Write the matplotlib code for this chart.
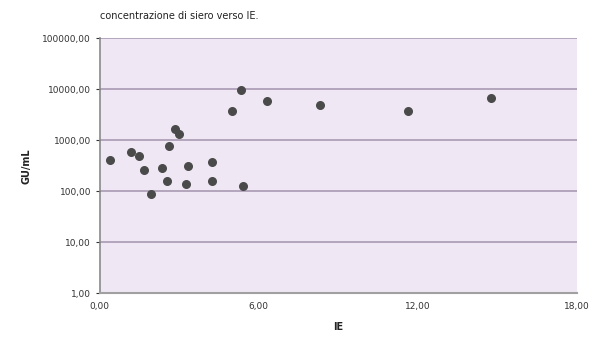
import numpy as np
import matplotlib
matplotlib.use("Agg")
import matplotlib.pyplot as plt
from matplotlib.ticker import FixedLocator, FuncFormatter, NullLocator

# data
ie_values = [0.38, 1.20, 1.49, 1.68, 1.95, 2.34, 2.54, 2.61, 2.86, 3.01, 3.26,
             3.34, 4.23, 4.24, 4.98, 5.34, 5.42, 6.30, 8.30, 11.62, 14.75]
gu_values = [417, 582, 499, 262, 88.5, 290, 159, 773, 1643, 1312, 139,
             313, 380, 157, 3705, 9690, 127, 5975, 4920, 3705, 6750]
x_ticks = [0, 6, 12, 18]
y_ticks = [1, 10, 100, 1000, 10000, 100000]


def comma_fmt(v, pos):
    return f"{v:.2f}".replace(".", ",")


fig = plt.figure(figsize=(5.96, 3.45), dpi=100)
ax = fig.add_axes([0.167, 0.150, 0.801, 0.739])
ax.set_facecolor("#efe7f4")

ax.scatter(ie_values, gu_values, s=30, color="#4a4a4a", zorder=3)

ax.set_yscale("log")
ax.set_xlim(0, 18)
ax.set_ylim(1, 100000)
ax.xaxis.set_major_locator(FixedLocator(x_ticks))
ax.yaxis.set_major_locator(FixedLocator(y_ticks))
ax.yaxis.set_minor_locator(NullLocator())
ax.xaxis.set_major_formatter(FuncFormatter(comma_fmt))
ax.yaxis.set_major_formatter(FuncFormatter(comma_fmt))

# horizontal grid only
ax.grid(axis="y", color="#a393ab", linewidth=1.1, zorder=1)
ax.set_axisbelow(True)

for side in ["top", "right"]:
    ax.spines[side].set_visible(False)
ax.spines["left"].set_color("#8a8a8a")
ax.spines["bottom"].set_color("#a0a0a0")
ax.spines["left"].set_linewidth(1.2)
ax.spines["bottom"].set_linewidth(1.5)

ax.tick_params(axis="both", labelsize=6.5, colors="#333333", length=3,
               width=0.8, pad=3)
ax.tick_params(axis="x", length=0, pad=6)

ax.set_xlabel("IE", fontsize=7, fontweight="bold", color="#222222", labelpad=8)
ax.set_ylabel("GU/mL", fontsize=7, fontweight="bold", color="#222222",
              labelpad=8)
fig.text(0.168, 0.955, "concentrazione di siero verso IE.", fontsize=7,
         color="#222222", ha="left", va="center")

fig.savefig("out.png", dpi=100)
